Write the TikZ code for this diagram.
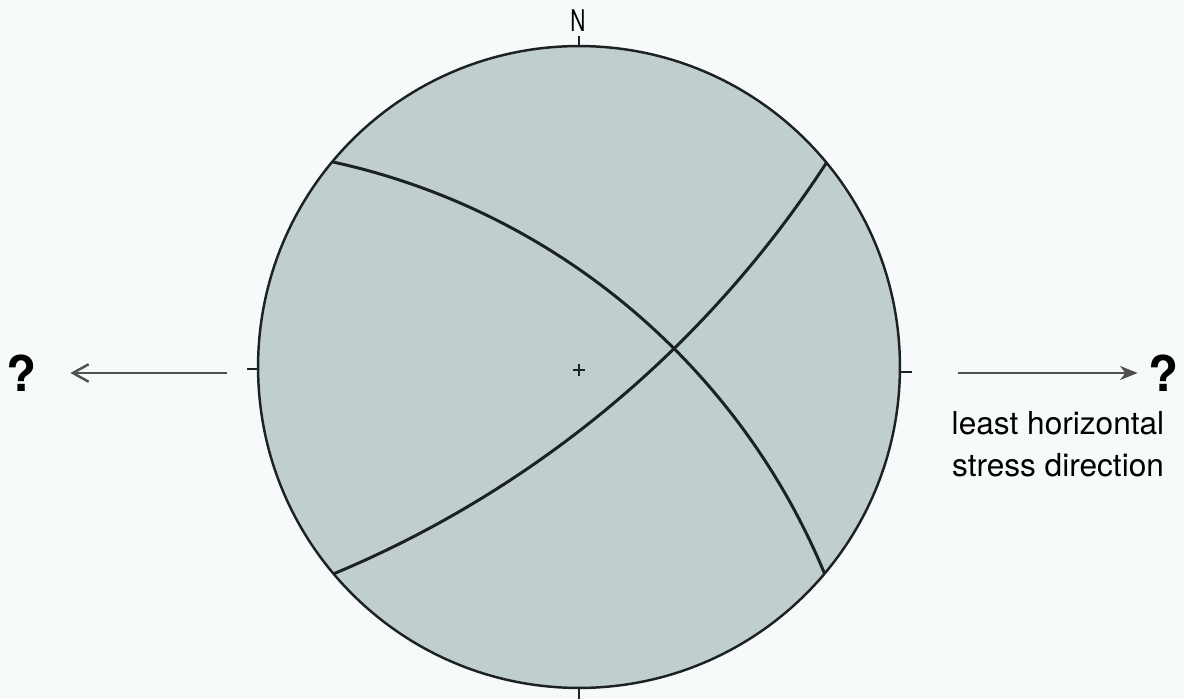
\documentclass[tikz,border=0pt]{standalone}
\usepackage{fontspec}
\setmainfont{TeX Gyre Heros}
\usepackage{tikz}
\usetikzlibrary{arrows.meta,calc}
\definecolor{netFill}{RGB}{193,206,206}
\definecolor{netLine}{RGB}{28,34,34}
\definecolor{paperBg}{RGB}{247,250,251}
\definecolor{arrowGray}{RGB}{80,80,80}

\begin{document}
\begin{tikzpicture}[
  x=0.02cm, y=-0.02cm,
  primitive/.style={draw=netLine, line width=1.4pt, fill=netFill},
  greatCircle/.style={draw=netLine, line width=1.7pt},
  tick/.style={draw=netLine, line width=1pt},
  pointer/.style={draw=arrowGray, line width=0.6pt},
  query/.style={font=\fontsize{28}{32}\selectfont\bfseries, inner sep=0pt},
  caption/.style={font=\fontsize{18}{24}\selectfont, align=center, inner sep=0pt}
]
\fill[paperBg] (0,0) rectangle (1184,699);
\useasboundingbox (0,0) rectangle (1184,699);

\coordinate (centre) at (579,367);
\def\netRadius{6.42cm}

% primitive circle of the net
\draw[primitive] (centre) circle[radius=\netRadius];

% the two planes as great circles
\begin{scope}
  \clip (centre) circle[radius=\netRadius];
  \draw[greatCircle] (185,838) circle[radius=13.84cm];
  \draw[greatCircle] (-83,-427) circle[radius=21.68cm];
\end{scope}

% ticks and centre mark
\draw[tick] ($(centre)+(0,-321)$) -- ++(0,-10);
\draw[tick] ($(centre)+(0,321)$) -- ++(0,12);
\draw[tick] ($(centre)+(-321,2)$) -- ++(-11,0);
\draw[tick] ($(centre)+(321,5)$) -- ++(12,0);
\draw[tick, line width=1.4pt] ($(centre)+(-6,3)$) -- ++(12,0);
\draw[tick, line width=1.4pt] ($(centre)+(0,-3)$) -- ++(0,12);

\node[font=\fontsize{17}{19}\selectfont, inner sep=0pt] (north) at (578,21)
  {\scalebox{0.7}[1]{N}};

\node[query] (qWest) at (22,373) {?};
\node[query] (qEast) at (1164,373) {?};
\coordinate (westTail) at (227,373);
\coordinate (eastTail) at (958,373);

\draw[pointer, -{Straight Barb[length=9pt, width=10pt, line width=1.4pt]},
  shorten >=0.66cm] (westTail) -- (qWest);
\draw[pointer, -{Stealth[length=10pt, width=8pt, inset=3pt]},
  shorten >=0.22cm] (eastTail) -- (qEast);

\node[caption] (stressNote) at (1058,444)
  {least horizontal\\stress direction};

\end{tikzpicture}
\end{document}
